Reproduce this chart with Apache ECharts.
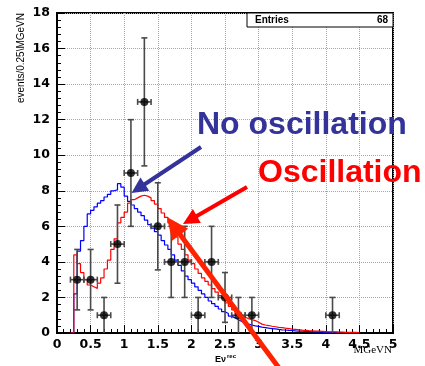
<!DOCTYPE html>
<html><head><meta charset="utf-8">
<script src="https://cdn.jsdelivr.net/npm/echarts@6.0.0/dist/echarts.min.js"></script>
<style>html,body{margin:0;padding:0;background:#fff}#c{width:425px;height:366px}</style>
</head><body><div id="c"></div>
<script>
// Histogram binning (GeV)
const binStart = 0.25;
const binWidth = 0.05;
// MC expectation without oscillation (blue), per 0.05 bin starting at 0.25
const noOscillation = [2.2,4.6,5.2,6.0,6.7,6.9,7.1,7.3,7.45,7.65,
  7.8,8.0,8.05,8.4,8.2,7.7,7.4,7.2,7.0,6.8,
  6.6,6.35,6.1,5.9,5.7,5.5,5.2,4.95,4.7,4.4,
  4.1,3.8,3.5,3.2,3.0,2.8,2.6,2.4,2.2,2.0,
  1.8,1.65,1.5,1.35,1.2,1.1,0.95,0.85,0.75,0.65,
  0.55,0.5,0.45,0.4,0.37,0.33,0.3,0.27,0.25,0.23,
  0.2,0.18,0.17,0.15,0.14,0.12,0.11,0.1,0.09,0.08,
  0.07,0.06,0.06,0.05,0.04,0.04,0.03,0.03,0.02];
// MC expectation with oscillation (red)
const oscillation = [4.4,3.9,3.4,3.0,2.7,2.6,2.5,2.8,3.1,3.6,
  4.1,4.7,5.3,6.2,6.5,6.8,7.3,
  7.5,7.6,7.7,7.75,7.7,7.6,7.45,7.25,7.0,6.75,
  6.5,6.2,5.8,5.4,5.0,4.7,4.4,4.1,3.9,3.6,
  3.35,3.1,2.9,2.7,2.5,2.3,2.1,1.95,1.7,1.5,
  1.3,1.1,1.0,0.9,0.8,0.75,0.7,0.6,0.5,0.45,
  0.42,0.38,0.35,0.32,0.3,0.27,0.25,0.22,0.2,0.18,
  0.16,0.15,0.13,0.12,0.11,0.1,0.09,0.08,0.07,0.07,
  0.06,0.05,0.05,0.04,0.04,0.03,0.03,0.02];
// Observed data points
const dataX    = [0.3,0.5,0.7,0.9,1.1,1.3,1.5,1.7,1.9,2.1,2.3,2.5,2.7,2.9,4.1];
const dataY    = [3,3,1,5,9,13,6,4,4,1,4,2,1,1,1];
const dataErrY = [1.7,1.7,1,2.2,3,3.6,2.45,2,2,1,2,1.4,1,1,1];
const dataErrX = 0.1;
const entries = "68";

function stepData(values){
  const pts = [[binStart - binWidth, 0]];
  values.forEach((v,i)=>pts.push([binStart + i*binWidth, v]));
  pts.push([binStart + values.length*binWidth, 0]);
  return pts;
}
const points = dataX.map((x,i)=>[x, dataY[i], dataErrY[i], dataErrX]);

const chart = echarts.init(document.getElementById('c'), null, {renderer:'canvas'});

function arrow(x1,y1,x2,y2,w,hl,hw,color){
  const dx=x2-x1, dy=y2-y1, L=Math.hypot(dx,dy), ux=dx/L, uy=dy/L;
  const bx=x2-ux*hl, by=y2-uy*hl, px=-uy, py=ux;
  return [
    {type:'line', z:100, shape:{x1:x1,y1:y1,x2:bx+ux*2,y2:by+uy*2}, style:{stroke:color,lineWidth:w}},
    {type:'polygon', z:100, shape:{points:[[x2,y2],[bx+px*hw,by+py*hw],[bx-px*hw,by-py*hw]]}, style:{fill:color}}
  ];
}

const axisCommon = {
  type:'value',
  axisLine:{show:true,onZero:false,lineStyle:{color:'#000',width:2}},
  axisTick:{show:true,inside:true,length:8,lineStyle:{color:'#000',width:1}},
  minorTick:{show:true,splitNumber:5,length:4,lineStyle:{color:'#000',width:1}},
  splitLine:{show:true,lineStyle:{type:'dotted',color:'#a8a8a8',width:1}},
  axisLabel:{fontFamily:'DejaVu Sans',fontWeight:'bold',fontSize:12.5,color:'#000'}
};

chart.setOption({
  animation:false,
  grid:{left:57,right:32,top:13,bottom:33,show:true,borderColor:'#000',borderWidth:2,backgroundColor:'transparent'},
  xAxis:Object.assign({}, axisCommon, {min:0,max:5,interval:0.5,
    axisLabel:Object.assign({}, axisCommon.axisLabel,{margin:5,showMinLabel:true,showMaxLabel:true})}),
  yAxis:Object.assign({}, axisCommon, {min:0,max:18,interval:2,
    axisLabel:Object.assign({}, axisCommon.axisLabel,{margin:7})}),
  series:[
    {type:'line',step:'end',data:stepData(noOscillation),showSymbol:false,symbol:'none',
     lineStyle:{color:'#0000ff',width:1.2},z:2},
    {type:'line',step:'end',data:stepData(oscillation),showSymbol:false,symbol:'none',
     lineStyle:{color:'#ff0000',width:1.2},z:3},
    {type:'custom',z:4,data:points,
     renderItem:function(params,api){
       const x=api.value(0), y=api.value(1), ey=api.value(2), ex=api.value(3);
       const top=api.coord([x,y+ey]), bot=api.coord([x,Math.max(y-ey,0)]);
       const l=api.coord([x-ex,y]), r=api.coord([x+ex,y]);
       const st={stroke:'#4a4a4a',lineWidth:1.6};
       const ch=[
         {type:'line',shape:{x1:top[0],y1:top[1],x2:bot[0],y2:bot[1]},style:st},
         {type:'line',shape:{x1:l[0],y1:l[1],x2:r[0],y2:r[1]},style:st},
         {type:'line',shape:{x1:l[0],y1:l[1]-3,x2:l[0],y2:l[1]+3},style:st},
         {type:'line',shape:{x1:r[0],y1:r[1]-3,x2:r[0],y2:r[1]+3},style:st}
       ];
       if (y-ey>0.01) ch.push({type:'line',shape:{x1:bot[0]-3,y1:bot[1],x2:bot[0]+3,y2:bot[1]},style:st});
       ch.push({type:'line',shape:{x1:top[0]-3,y1:top[1],x2:top[0]+3,y2:top[1]},style:st});
       return {type:'group',children:ch};
     }},
    {type:'scatter',z:5,data:points.map(p=>[p[0],p[1]]),symbol:'circle',symbolSize:8,
     itemStyle:{color:'#000'}}
  ],
  graphic:[
    {type:'rect',z:50,shape:{x:247,y:13,width:146,height:14},style:{fill:'#fff',stroke:'#000',lineWidth:1}},
    {type:'text',z:51,x:255,y:20,style:{text:'Entries',fontFamily:'Liberation Sans',fontWeight:'bold',fontSize:10,fill:'#000',verticalAlign:'middle'}},
    {type:'text',z:51,x:388,y:20,style:{text:entries,fontFamily:'Liberation Sans',fontWeight:'bold',fontSize:10,fill:'#000',align:'right',verticalAlign:'middle'}},
    {type:'text',z:51,x:21,y:13,rotation:Math.PI/2,style:{text:'events/0.25\\MGeVN',fontFamily:'Liberation Sans',fontSize:10,fill:'#000',align:'right',verticalAlign:'middle'}},
    {type:'text',z:51,x:215,y:360,style:{text:'Eν',fontFamily:'Liberation Sans',fontWeight:'bold',fontSize:9,fill:'#000',verticalAlign:'middle'}},
    {type:'text',z:51,x:227,y:356,style:{text:'rec',fontFamily:'Liberation Sans',fontWeight:'bold',fontSize:6,fill:'#000',verticalAlign:'middle'}},
    {type:'text',z:51,x:392,y:350,style:{text:'MGeVN',fontFamily:'Liberation Serif',fontSize:11,fill:'#000',align:'right',verticalAlign:'middle'}},
    {type:'text',z:110,x:197,y:125,style:{text:'No oscillation',fontFamily:'Liberation Sans',fontWeight:'bold',fontSize:32,fill:'#333399',verticalAlign:'middle'}},
    {type:'text',z:110,x:258,y:173,style:{text:'Oscillation',fontFamily:'Liberation Sans',fontWeight:'bold',fontSize:32,fill:'#ff0000',verticalAlign:'middle'}}
  ]
    .concat(arrow(201,147,131.5,193,4,16,8,'#333399'))
    .concat(arrow(247,187,183,224,4,16,8,'#ff0000'))
    .concat(arrow(282,372,167,217,5,22,10,'#ff2200'))
});
</script></body></html>
